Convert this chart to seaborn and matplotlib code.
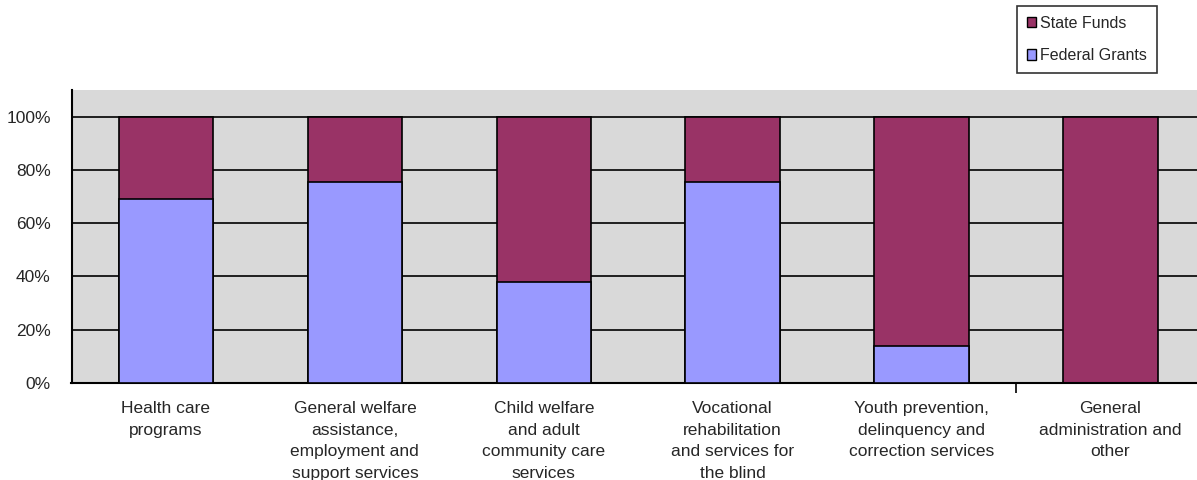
import matplotlib
matplotlib.use("Agg")
import matplotlib.pyplot as plt
import seaborn as sns
import pandas as pd
from matplotlib.patches import Patch
from matplotlib.ticker import FixedLocator

categories = [
    "Health care\nprograms",
    "General welfare\nassistance,\nemployment and\nsupport services",
    "Child welfare\nand adult\ncommunity care\nservices",
    "Vocational\nrehabilitation\nand services for\nthe blind",
    "Youth prevention,\ndelinquency and\ncorrection services",
    "General\nadministration and\nother",
]
federal = [69, 75.5, 38, 75.5, 14, 0]
state = [100 - f for f in federal]
total = [f + s for f, s in zip(federal, state)]

state_color = "#993366"
federal_color = "#9999FF"

sns.set_theme(style="white")
plt.rcParams["font.family"] = ["Liberation Sans", "DejaVu Sans"]

df = pd.DataFrame({"cat": categories, "federal": federal, "total": total})

fig = plt.figure(figsize=(11.97, 4.8), dpi=100)
W, H = 1197, 480
left, right, top, bottom = 71.5, 1205, 90, 383
ax = fig.add_axes([left / W, 1 - bottom / H, (right - left) / W, (bottom - top) / H])
ax.set_facecolor("#D9D9D9")

for y in [20, 40, 60, 80, 100]:
    ax.axhline(y, color="black", lw=1.2, zorder=0)

sns.barplot(data=df, x="cat", y="total", color=state_color, width=0.5,
            edgecolor="black", linewidth=1.2, saturation=1, ax=ax, zorder=2)
sns.barplot(data=df, x="cat", y="federal", color=federal_color, width=0.5,
            edgecolor="black", linewidth=1.2, saturation=1, ax=ax, zorder=3)

ax.set_xlim(-0.5, 5.5)
ax.set_ylim(0, 110)
ax.set_yticks([0, 20, 40, 60, 80, 100])
ax.set_yticklabels(["0%", "20%", "40%", "60%", "80%", "100%"], fontsize=12.5)
ax.set_xlabel("")
ax.set_ylabel("")
ax.tick_params(axis="x", length=0, pad=13, labelsize=12.5)
ax.tick_params(axis="y", length=7, width=1.2, color="black", direction="out", pad=8)
for lbl in ax.get_xticklabels():
    lbl.set_linespacing(1.55)
ax.xaxis.set_minor_locator(FixedLocator([4.5]))
ax.tick_params(axis="x", which="minor", length=7, width=1.2, color="black", direction="out", bottom=True)

for s in ["top", "right"]:
    ax.spines[s].set_visible(False)
for s in ["left", "bottom"]:
    ax.spines[s].set_color("black")
    ax.spines[s].set_linewidth(1.5)

handles = [Patch(facecolor=state_color, edgecolor="black", label="State Funds"),
           Patch(facecolor=federal_color, edgecolor="black", label="Federal Grants")]
leg = fig.legend(handles=handles, loc="upper left",
                 bbox_to_anchor=(1017 / W, 1 - 6 / H), fontsize=11.5,
                 frameon=True, fancybox=False, edgecolor="black",
                 handlelength=0.6, handleheight=0.6, handletextpad=0.25,
                 labelspacing=1.1, borderpad=0.6, borderaxespad=0)
leg.get_frame().set_linewidth(1.2)

fig.savefig("out.png", dpi=100, facecolor="white")
